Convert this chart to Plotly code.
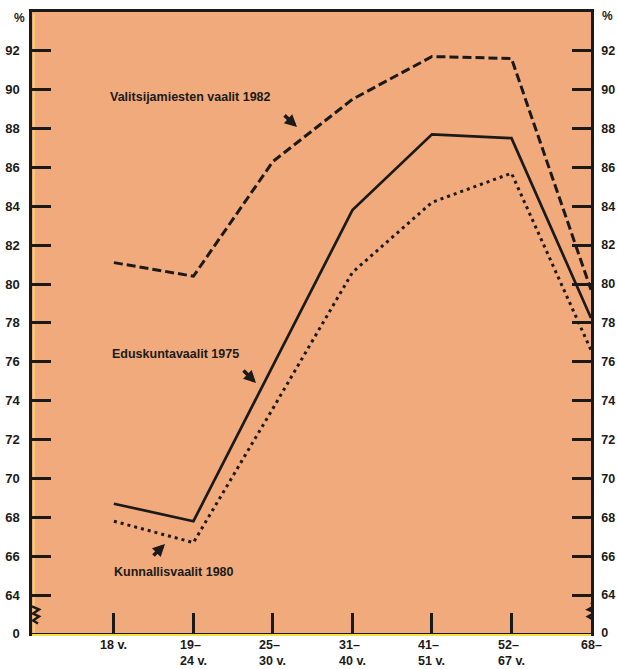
import plotly.graph_objects as go

# ---- data ----
categories = ["18 v.", "19–24 v.", "25–30 v.", "31–40 v.", "41–51 v.", "52–67 v.", "68–"]
x_labels = ["18 v.", "19–<br>24 v.", "25–<br>30 v.", "31–<br>40 v.", "41–<br>51 v.", "52–<br>67 v.", "68–"]
valitsijamiesten_1982 = [81.1, 80.4, 86.3, 89.5, 91.7, 91.6, 79.7]
eduskunta_1975 = [68.7, 67.8, 75.8, 83.8, 87.7, 87.5, 78.25]
kunnallis_1980 = [67.8, 66.7, 73.6, 80.6, 84.2, 85.7, 76.6]
y_tick_vals = [64, 66, 68, 70, 72, 74, 76, 78, 80, 82, 84, 86, 88, 90, 92]
series_names = ["Valitsijamiesten vaalit 1982", "Eduskuntavaalit 1975", "Kunnallisvaalit 1980"]

# ---- layout geometry ----
W, H = 617, 669
ML, MR, MT, MB = 32, 26, 12, 36
PX0, PX1 = ML, W - MR
PY0, PY1 = MT, H - MB
Y_MIN, Y_MAX = 62.05, 93.99
X_MIN, X_MAX = -1.03, 6.0

def px(xp):
    return (xp - PX0) / (PX1 - PX0)

def py(yp):
    return (PY1 - yp) / (PY1 - PY0)

BG = "#F0AA7C"
INK = "#1c1a18"
FONT = "Liberation Sans, Arial, sans-serif"

xs = list(range(len(categories)))

fig = go.Figure()
fig.add_trace(go.Scatter(x=xs, y=valitsijamiesten_1982, mode="lines", name=series_names[0],
                         line=dict(color=INK, width=3, dash="9px,4px"), hoverinfo="skip"))
fig.add_trace(go.Scatter(x=xs, y=eduskunta_1975, mode="lines", name=series_names[1],
                         line=dict(color=INK, width=2.7), hoverinfo="skip"))
fig.add_trace(go.Scatter(x=xs, y=kunnallis_1980, mode="lines", name=series_names[2],
                         line=dict(color=INK, width=3, dash="3px,4px"), hoverinfo="skip"))
# invisible trace to carry the right axis
fig.add_trace(go.Scatter(x=xs, y=eduskunta_1975, yaxis="y2", mode="lines", opacity=0,
                         showlegend=False, hoverinfo="skip"))

yticks = [Y_MIN] + y_tick_vals
ytext = ["0"] + [str(v) for v in y_tick_vals]

axis_common = dict(range=[Y_MIN, Y_MAX], tickvals=yticks, ticktext=ytext, ticks="inside",
                   ticklen=19, tickwidth=2.5, tickcolor=INK, showgrid=False, zeroline=False,
                   showline=True, linecolor=INK, linewidth=2.5, automargin=False)

fig.update_layout(
    template="none",
    width=W, height=H, autosize=False,
    margin=dict(l=ML, r=MR, t=MT, b=MB, pad=0),
    paper_bgcolor="white", plot_bgcolor=BG,
    showlegend=False,
    xaxis=dict(range=[X_MIN, X_MAX], tickvals=xs[:-1], ticks="inside", ticklen=20, tickwidth=2.5,
               tickcolor=INK, showticklabels=False, showgrid=False, zeroline=False,
               showline=True, linecolor=INK, linewidth=2.5, mirror=True, automargin=False),
    yaxis=dict(**axis_common, side="left", ticklabelstandoff=7,
               tickfont=dict(family=FONT, size=13, color=INK, weight="bold")),
    yaxis2=dict(**axis_common, side="right", overlaying="y", ticklabelstandoff=5,
                tickfont=dict(family=FONT, size=12.5, color=INK, weight="bold")),
)

annotations = []
# x labels
for i, lab in enumerate(x_labels):
    xpix = PX0 + (i - X_MIN) / (X_MAX - X_MIN) * (PX1 - PX0)
    annotations.append(dict(x=px(xpix), y=py(636), xref="paper", yref="paper", text=lab,
                            showarrow=False, xanchor="center", yanchor="top", align="left",
                            font=dict(family=FONT, size=12.5, color=INK, weight="bold")))
# percent signs
pct_font = dict(family=FONT, size=12, color=INK, weight="bold")
annotations.append(dict(x=px(19), y=py(18), xref="paper", yref="paper", text="%", showarrow=False,
                        xanchor="center", yanchor="middle", font=pct_font))
annotations.append(dict(x=px(607), y=py(16), xref="paper", yref="paper", text="%", showarrow=False,
                        xanchor="center", yanchor="middle", font=pct_font))
# series labels
lab_font = dict(family=FONT, size=12.5, color=INK, weight="bold")
annotations.append(dict(x=px(108), y=py(97), xref="paper", yref="paper", text=series_names[0],
                        showarrow=False, xanchor="left", yanchor="middle", font=lab_font))
annotations.append(dict(x=px(110), y=py(354), xref="paper", yref="paper", text=series_names[1],
                        showarrow=False, xanchor="left", yanchor="middle", font=lab_font))
annotations.append(dict(x=px(112), y=py(572), xref="paper", yref="paper", text=series_names[2],
                        showarrow=False, xanchor="left", yanchor="middle", font=lab_font))
# small arrows
for (hx, hy, tx, ty) in [(297, 127, 283, 114), (256, 383, 242, 369), (165, 544, 152, 557)]:
    annotations.append(dict(x=px(hx), y=py(hy), xref="paper", yref="paper", text="",
                            showarrow=True, ax=tx - hx, ay=ty - hy, arrowhead=2, arrowsize=0.7,
                            arrowwidth=3.5, arrowcolor=INK))
fig.update_layout(annotations=annotations)

# axis breaks (zigzags) and yellow edge lines
zig = "M 0 9 L 7 6 L 1 2 L 7 -1 L 1 -5 L 6 -8"
zig_r = "M 0 9 L 4 6 L -3 2 L 4 -1 L -3 -5 L 2 -8"
fig.add_shape(type="path", xref="x", yref="y", xsizemode="pixel", ysizemode="pixel",
              xanchor=X_MIN, yanchor=62.95, path=zig, line=dict(color=INK, width=2.5))
fig.add_shape(type="path", xref="x", yref="y", xsizemode="pixel", ysizemode="pixel",
              xanchor=X_MAX, yanchor=63.15, path=zig_r, line=dict(color=INK, width=2.5))
fig.add_shape(type="line", xref="paper", yref="paper", x0=px(32), x1=px(591), y0=py(635), y1=py(635),
              line=dict(color="#F2E24A", width=2))
fig.add_shape(type="line", xref="paper", yref="paper", x0=px(34), x1=px(34), y0=py(633), y1=py(14),
              line=dict(color="#F2D86A", width=1.5), layer="below")

fig.write_html("out.html", config={"displayModeBar": False},
               post_script="document.body.style.margin='0';document.body.style.overflow='hidden';")
